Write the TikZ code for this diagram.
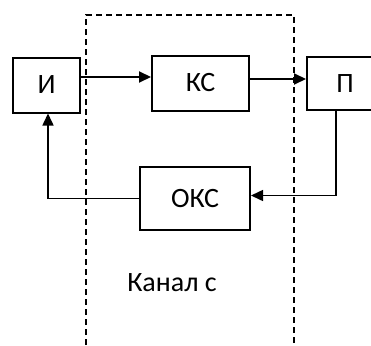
\documentclass[tikz,border=0pt]{standalone}
\usepackage{fontspec}
\setmainfont{Carlito}
\usetikzlibrary{arrows.meta}

\tikzset{
  blok/.style={draw, line width=2pt, minimum height=55pt, inner sep=0pt,
    font=\fontsize{28}{32}\selectfont},
  strelka/.style={line width=2pt, -{Triangle[length=12pt, width=11pt]}},
  obr/.style={line width=1.5pt, -{Triangle[length=12pt, width=11pt]}},
  kanal/.style={line width=1.5pt, dash pattern=on 6pt off 4pt}
}

\begin{document}
\begin{tikzpicture}[x=1pt, y=-1pt]
  \clip (0,0) rectangle (371,345);
  \useasboundingbox (0,0) rectangle (371,345);
  % bloki
  \node[blok, minimum width=67pt] (I) at (46.5,85) {И};
  \node[blok, minimum width=97pt] (KS) at (200.5,83) {КС};
  \node[blok, minimum width=76pt, minimum height=53pt] (P) at (345,83.5) {П};
  \node[blok, minimum width=110pt, minimum height=63pt] (OKS) at (195,198.5) {ОКС};
  % kanal svyazi
  \draw[kanal] (86,345) -- (86,15) -- (294,15) -- (294,345);
  \node[font=\fontsize{28}{32}\selectfont] (kanal) at (172,283) {Канал с};
  % pryamye svyazi
  \draw[strelka] ([yshift=8pt]I.east) -- ([yshift=8pt]I.east -| KS.west);
  \draw[strelka] ([yshift=4pt]KS.east) -- ([yshift=4pt]KS.east -| P.west);
  % obratnaya svyaz
  \draw[obr] ([xshift=30pt]P.south west) |- ([yshift=3pt]OKS.east);
  \draw[obr] (OKS.west) -| ([xshift=1.5pt]I.south);
\end{tikzpicture}
\end{document}
